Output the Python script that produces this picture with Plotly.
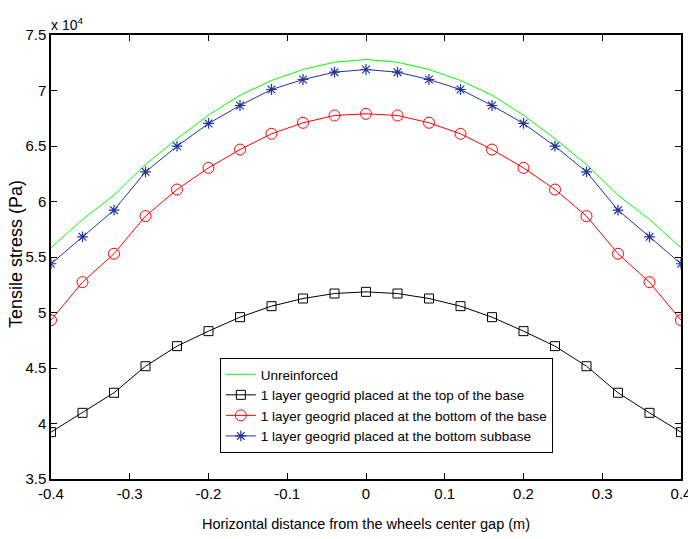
import plotly.graph_objects as go

x_vals = [-0.4, -0.36, -0.32, -0.28, -0.24, -0.2, -0.16, -0.12, -0.08, -0.04, 0.0,
          0.04, 0.08, 0.12, 0.16, 0.2, 0.24, 0.28, 0.32, 0.36, 0.4]

half_unreinforced = [5.583, 5.838, 6.057, 6.333, 6.565, 6.778, 6.958, 7.090, 7.189, 7.255, 7.279]
half_top_base = [3.922, 4.096, 4.277, 4.516, 4.697, 4.832, 4.958, 5.057, 5.126, 5.171, 5.186]
half_bottom_base = [4.931, 5.273, 5.529, 5.868, 6.108, 6.303, 6.468, 6.610, 6.709, 6.775, 6.790]
half_bottom_subbase = [5.439, 5.682, 5.922, 6.267, 6.498, 6.703, 6.865, 7.009, 7.099, 7.165, 7.189]

def full(h):
    return [v * 1e4 for v in h + h[-2::-1]]

unreinforced = full(half_unreinforced)
top_base = full(half_top_base)
bottom_base = full(half_bottom_base)
bottom_subbase = full(half_bottom_subbase)

names = ["Unreinforced",
         "1 layer geogrid placed at the top of the base",
         "1 layer geogrid placed at the bottom of the base",
         "1 layer geogrid placed at the bottom subbase"]

y_tick_vals = [3.5, 4, 4.5, 5, 5.5, 6, 6.5, 7, 7.5]
y_tick_text = ["3.5", "4", "4.5", "5", "5.5", "6", "6.5", "7", "7.5"]
x_tick_vals = [-0.4, -0.3, -0.2, -0.1, 0, 0.1, 0.2, 0.3, 0.4]
x_tick_text = ["-0.4", "-0.3", "-0.2", "-0.1", "0", "0.1", "0.2", "0.3", "0.4"]

FONT = "Liberation Sans, Arial, sans-serif"
BLUE = "#22339a"
y_title = "Tensile stress (Pa)"

fig = go.Figure()
fig.add_trace(go.Scatter(x=x_vals, y=unreinforced, mode="lines", name=names[0],
                         line=dict(color="#00ff00", width=1)))
fig.add_trace(go.Scatter(x=x_vals, y=top_base, mode="lines+markers", name=names[1],
                         line=dict(color="black", width=1),
                         marker=dict(symbol="square-open", size=9, color="black", line=dict(width=1))))
fig.add_trace(go.Scatter(x=x_vals, y=bottom_base, mode="lines+markers", name=names[2],
                         line=dict(color="#ff0000", width=1),
                         marker=dict(symbol="circle-open", size=11, color="#ff0000", line=dict(width=1))))
fig.add_trace(go.Scatter(x=x_vals, y=bottom_subbase, mode="lines+markers", name=names[3],
                         line=dict(color=BLUE, width=1),
                         marker=dict(symbol="asterisk-open", size=9, color=BLUE, line=dict(width=1.2, color=BLUE))))

fig.update_layout(
    width=688, height=539,
    margin=dict(l=51, r=7, t=35, b=60, autoexpand=False),
    paper_bgcolor="white", plot_bgcolor="white",
    font=dict(family=FONT, size=15, color="black"),
    showlegend=True,
    legend=dict(x=0.268, y=0.2725, xanchor="left", yanchor="top",
                bordercolor="black", borderwidth=1, bgcolor="white",
                font=dict(family=FONT, size=13.5), tracegroupgap=0, itemwidth=30),
    xaxis=dict(range=[-0.4, 0.4], tickvals=x_tick_vals, ticktext=x_tick_text,
               ticks="inside", ticklen=6, tickwidth=1, tickcolor="black",
               showline=True, linecolor="black", linewidth=1.5, mirror="ticks",
               showgrid=False, zeroline=False, ticklabeloverflow="allow", automargin=False,
               tickfont=dict(size=15),
               title=dict(text="Horizontal distance from the wheels center gap (m)",
                          font=dict(family=FONT, size=14.5), standoff=18)),
    yaxis=dict(range=[3.5e4, 7.5e4], tickvals=[v * 1e4 for v in y_tick_vals], ticktext=y_tick_text,
               ticks="inside", ticklen=6, tickwidth=1, tickcolor="black",
               showline=True, linecolor="black", linewidth=1.5, mirror="ticks",
               showgrid=False, zeroline=False, ticklabeloverflow="allow", automargin=False,
               tickfont=dict(size=15)),
    annotations=[
        dict(text="x 10<sup>4</sup>", x=0, y=1, xref="paper", yref="paper",
             xanchor="left", yanchor="bottom", showarrow=False,
             font=dict(family=FONT, size=14), xshift=-2, yshift=0),
        dict(text=y_title, x=0, y=0.5, xref="paper", yref="paper",
             xanchor="center", yanchor="middle", showarrow=False, textangle=-90,
             font=dict(family=FONT, size=18), xshift=-35, yshift=3),
    ],
)

fig.write_html("out.html")
